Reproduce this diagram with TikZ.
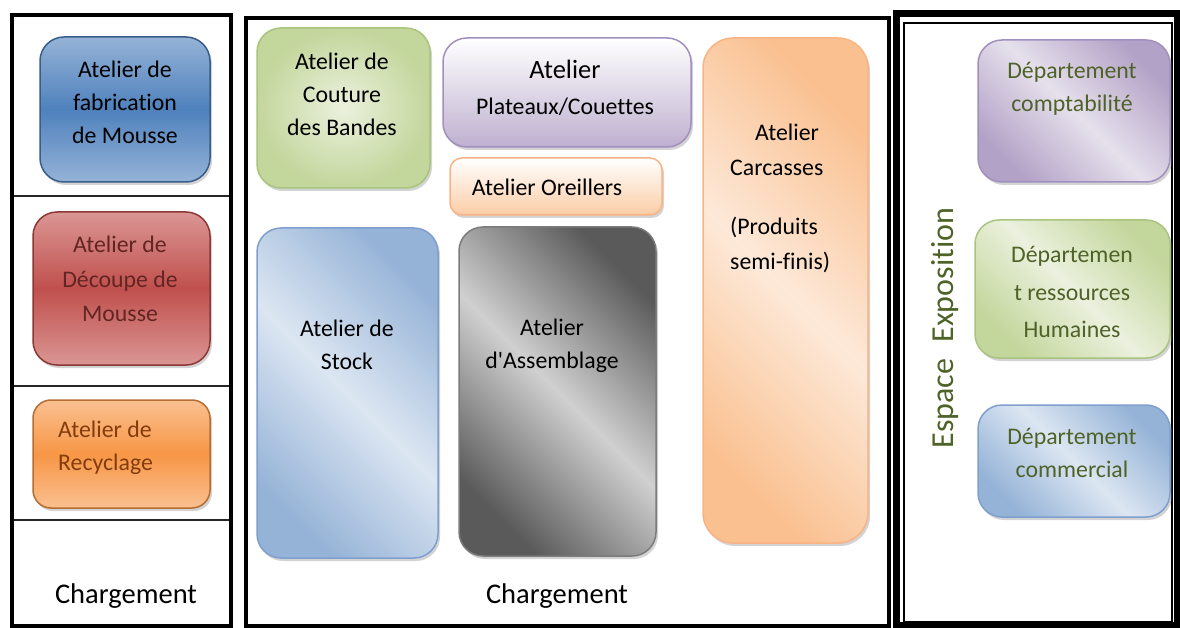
\documentclass[tikz,border=0pt]{standalone}
\usepackage{fontspec}
\setmainfont{Carlito}[Ligatures={TeXOff,NoCommon}]
\usetikzlibrary{positioning,shadows}

\definecolor{fabLight}{HTML}{95B3D7}
\definecolor{fabDark}{HTML}{4F81BD}
\definecolor{fabLine}{HTML}{385D8A}
\definecolor{redLight}{HTML}{DA9694}
\definecolor{redDark}{HTML}{C0504D}
\definecolor{redLine}{HTML}{8C3836}
\definecolor{redText}{HTML}{632523}
\definecolor{orLight}{HTML}{FAC090}
\definecolor{orDark}{HTML}{F79646}
\definecolor{orLine}{HTML}{B66D31}
\definecolor{orText}{HTML}{843C0C}
\definecolor{orPale}{HTML}{FDE9D9}
\definecolor{orBorder}{HTML}{F9B384}
\definecolor{grLight}{HTML}{EBF1DE}
\definecolor{grDark}{HTML}{C3D69B}
\definecolor{grLine}{HTML}{A9C47F}
\definecolor{puLight}{HTML}{E6E0EC}
\definecolor{puDark}{HTML}{B3A2C7}
\definecolor{puLine}{HTML}{A18FBF}
\definecolor{blLight}{HTML}{DCE6F2}
\definecolor{blLine}{HTML}{7F9FCF}
\definecolor{gyLight}{HTML}{D0D0D0}
\definecolor{gyDark}{HTML}{5A5A5A}
\definecolor{olive}{HTML}{4F6228}

\begin{document}
\begin{tikzpicture}[x=1pt,y=-1pt,font=\fontsize{23.8}{33}\selectfont]
        \tikzstyle{atelier}=[rounded corners=24pt,line width=1.5pt,inner sep=0pt,
            drop shadow={shadow xshift=2pt,shadow yshift=-3pt,opacity=0.35}]
        \tikzstyle{label}=[align=center,inner sep=0pt]
        \tikzstyle{frame}=[draw=black,line width=4.5pt]
        \tikzstyle{quai}=[inner sep=0pt,font=\fontsize{28.5}{30}\selectfont]
        \tikzstyle{diag}=[shading angle=-45]

        \useasboundingbox (0,0) rectangle (1180,628);

        % Draw the three zones
        \draw[frame] (12,15) rectangle (231,626);
        \draw[frame] (246,18) rectangle (889,626);
        \draw[draw=black,line width=7pt] (896,14) rectangle (1177,625);
        \draw[line width=1.2pt] (904,23) rectangle (1172,622);
        \foreach \y in {196,386,520}
            \draw[line width=1.2pt,black!85] (14,\y) -- (229,\y);

        % Left zone
        \node[atelier,draw=fabLine,top color=fabLight,bottom color=fabLight,middle color=fabDark,
            minimum width=170,minimum height=145] (fab) at (125,109.5) {};
        \node[label] (fab-t) at (125,102) {Atelier de\\fabrication\\de Mousse};
        \node[atelier,draw=redLine,top color=redLight,bottom color=redLight,middle color=redDark,
            minimum width=177,minimum height=153] (dec) at (121.5,288.5) {};
        \node[label,text=redText,font=\fontsize{23.8}{34.5}\selectfont] (dec-t) at (120,279) {Atelier de\\Découpe de\\Mousse};
        \node[atelier,rounded corners=18pt,draw=orLine,top color=orLight,bottom color=orLight,middle color=orDark,
            minimum width=177,minimum height=108] (rec) at (121.5,454) {};
        \node[label,align=left,anchor=west,text=orText] (rec-t) at (58,448) {Atelier de\\Recyclage};
        \node[quai] (ch1) at (126,596) {Chargement};

        % Middle zone
        \node[atelier,draw=grLine,inner color=grLight,outer color=grDark,
            minimum width=173,minimum height=160] (cout) at (343.5,108) {};
        \node[label] (cout-t) at (342,94) {Atelier de\\Couture\\des Bandes};
        \node[atelier,draw=puLine,top color=white,bottom color=puDark!85,
            minimum width=248,minimum height=109] (plat) at (567,92.5) {};
        \node[label,font=\fontsize{23.8}{36}\selectfont] (plat-t) at (565,88) {{\fontsize{26.5}{30}\selectfont Atelier}\\Plateaux/Couettes};
        \node[atelier,rounded corners=12pt,draw=orBorder,top color=white,bottom color=orLight!80,
            minimum width=212,minimum height=57] (orei) at (556,186.5) {};
        \node[label] (orei-t) at (547,187) {Atelier Oreillers};
        \node[atelier,draw=blLine,top color=fabLight,bottom color=fabLight,middle color=blLight,diag,
            minimum width=181,minimum height=330] (stock) at (347.5,393) {};
        \node[label] (stock-t) at (347,345) {Atelier de\\Stock};
        \node[atelier,draw=gyDark!80,top color=gyDark,bottom color=gyDark,middle color=gyLight,diag,
            minimum width=197,minimum height=329] (assm) at (557.5,391.5) {};
        \node[label] (assm-t) at (552,346) {Atelier\\d'Assemblage};
        \node[atelier,rounded corners=30pt,draw=orBorder,top color=orLight,bottom color=orLight,middle color=orPale,diag,
            minimum width=165,minimum height=505] (carc) at (785.5,290.5) {};
        \node[label,align=left,anchor=north west,font=\fontsize{23.8}{35}\selectfont] (carc-t) at (730,124)
            {\hspace{25pt}Atelier\\Carcasses\\[24pt](Produits\\semi-finis)};
        \node[quai] (ch2) at (557,596) {Chargement};

        % Right zone
        \node[atelier,draw=puLine,top color=puDark,bottom color=puDark,middle color=puLight,diag,
            minimum width=192,minimum height=142] (compta) at (1074,111) {};
        \node[label,text=olive] (compta-t) at (1072,89) {Département\\comptabilité};
        \node[atelier,draw=grLine,top color=grDark,bottom color=grDark,middle color=grLight,diag,
            minimum width=195,minimum height=138] (rh) at (1072.5,289) {};
        \node[label,text=olive,font=\fontsize{23.8}{37.5}\selectfont] (rh-t) at (1072,292) {Départemen\\t ressources\\Humaines};
        \node[atelier,draw=blLine,top color=fabLight,bottom color=fabLight,middle color=blLight,diag,
            minimum width=192,minimum height=112] (comm) at (1074,461) {};
        \node[label,text=olive] (comm-t) at (1072,453) {Département\\commercial};
        \node[label,text=olive,rotate=90,font=\fontsize{32}{32}\selectfont] (expo) at (945,328) {Espace\hspace{16pt}Exposition};

\end{tikzpicture}
\end{document}
